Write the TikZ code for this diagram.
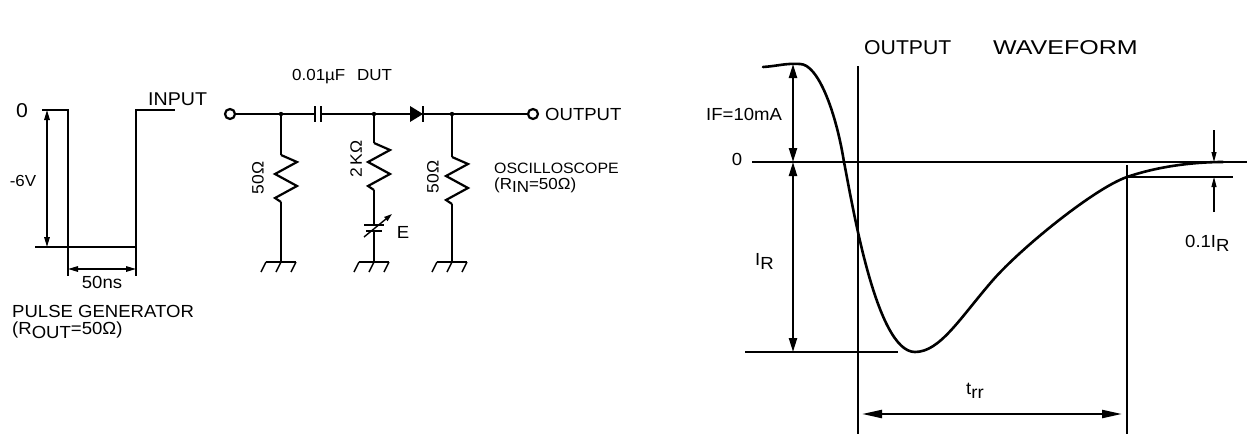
\documentclass[tikz,border=0pt]{standalone}
\usepackage{fontspec}
\setmainfont{Liberation Sans}[FakeStretch=1.06]
\usetikzlibrary{arrows.meta}
\newcommand\lsub[1]{\raisebox{-0.45ex}{#1}}
\begin{document}
\begin{tikzpicture}[x=1pt,y=-1pt,
  wire/.style={line width=2.2pt},
  thinl/.style={line width=1.1pt},
  curv/.style={line width=2.6pt},
  bigdim/.style={line width=2.2pt,{Triangle[length=14pt,width=8pt]}-{Triangle[length=14pt,width=8pt]}},
  smalldim/.style={line width=1.5pt,{Triangle[length=10pt,width=5.5pt]}-{Triangle[length=10pt,width=5.5pt]}},
  tinyarr/.style={line width=1.1pt,-{Triangle[length=10pt,width=5pt]}},
  term/.style={circle,draw,line width=2.2pt,minimum size=10pt,inner sep=0pt,fill=white},
  lbl/.style={inner sep=0pt,font=\fontsize{17.5}{18}\selectfont},
  zres/.pic={\draw[wire,line join=miter] (0,0) -- (16,7) -- (-6,19) -- (16,31) -- (-6,43) -- (0,47);},
  gnd/.pic={\draw[wire] (-15,0) -- (15,0);
            \foreach \gx in {-15,0,15} \draw[line width=1.4pt] (\gx,0) -- (\gx-5,10);}
]
\useasboundingbox (0,0) rectangle (1254,434);

% ---------- pulse generator ----------
\coordinate (p0) at (42,110);
\coordinate (p1) at (68,110);
\coordinate (p2) at (68,247);
\coordinate (p3) at (136,247);
\coordinate (p4) at (136,110);
\coordinate (p5) at (175,110);
\draw[wire] (p0) -- (p1) -- (p2) -- (p3) -- (p4) -- (p5);
\coordinate (v0) at (47,110);
\coordinate (v1) at (47,247);
\draw[thinl] (35,247) -- (p2);
\draw[smalldim] (v0) -- (v1);
\coordinate (e1) at (68,276);
\coordinate (e2) at (136,276);
\draw[thinl] (p2) -- (e1);
\draw[thinl] (p3) -- (e2);
\coordinate (h0) at (68,269);
\coordinate (h1) at (136,269);
\draw[smalldim] (h0) -- (h1);
\node[lbl,font=\fontsize{20}{20}\selectfont] (zero1) at (22,111) {0};
\node[lbl,font=\fontsize{16}{16}\selectfont] (sixv) at (23,181) {-6V};
\node[lbl,anchor=base west,font=\fontsize{18.5}{19}\selectfont] (inputlbl) at (148,105) {INPUT};
\node[lbl,anchor=base] (ns) at (102,288) {50ns};
\node[lbl,anchor=base west] (pg) at (12,317) {PULSE GENERATOR};
\node[lbl,anchor=base west] (rout) at (12,334) {(R\lsub{OUT}=50Ω)};

% ---------- circuit ----------
\node[term] (in) at (230,114) {};
\coordinate (j1) at (281,114);
\coordinate (c1) at (315,114);
\coordinate (c2) at (321,114);
\coordinate (j2) at (374,114);
\coordinate (da) at (410,114);
\coordinate (dk) at (423,114);
\coordinate (j3) at (452,114);
\node[term] (out) at (533,114) {};
\draw[wire] (in) -- (c1);
\draw[wire] (315,106) -- (315,122);
\draw[wire] (321,106) -- (321,122);
\draw[wire] (c2) -- (da);
\fill (410,106) -- (dk) -- (410,122) -- cycle;
\draw[wire] (423,106) -- (423,122);
\draw[wire] (dk) -- (out);
\foreach \j in {j1,j2,j3} \fill (\j) circle (2.2pt);

% branch 1
\coordinate (r1t) at (281,155);
\coordinate (r1b) at (281,202);
\coordinate (g1) at (281,262);
\draw[wire] (j1) -- (r1t);
\pic at (r1t) {zres};
\draw[wire] (r1b) -- (g1);
\pic at (g1) {gnd};
\node[lbl,rotate=90,font=\fontsize{16.5}{17}\selectfont] (r1l) at (258,178) {50Ω};

% branch 2
\coordinate (r2t) at (374,143);
\coordinate (r2b) at (374,190);
\coordinate (bt) at (374,225);
\coordinate (bb) at (374,231);
\coordinate (g2) at (374,262);
\draw[wire] (j2) -- (r2t);
\pic at (r2t) {zres};
\draw[wire] (r2b) -- (bt);
\draw[wire] (364,225) -- (384,225);
\draw[wire] (366,231) -- (382,231);
\draw[wire] (bb) -- (g2);
\draw[line width=1.4pt,-{Triangle[length=8pt,width=5pt]}] (364,237) -- (392,214);
\pic at (g2) {gnd};
\node[lbl,rotate=90,font=\fontsize{16.5}{17}\selectfont] (r2l) at (356,159) {2\,KΩ};
\node[lbl,font=\fontsize{17.5}{18}\selectfont] (elbl) at (403,232) {E};

% branch 3
\coordinate (r3t) at (452,157);
\coordinate (r3b) at (452,204);
\coordinate (g3) at (452,262);
\draw[wire] (j3) -- (r3t);
\pic at (r3t) {zres};
\draw[wire] (r3b) -- (g3);
\pic at (g3) {gnd};
\node[lbl,rotate=90,font=\fontsize{16.5}{17}\selectfont] (r3l) at (433,177) {50Ω};

\node[lbl,anchor=base west,font=\fontsize{16}{16}\selectfont] (cap) at (292,80) {0.01µF};
\node[lbl,anchor=base west,font=\fontsize{16}{16}\selectfont] (dut) at (357,80) {DUT};
\node[lbl,anchor=base west] (outlbl) at (545,120) {OUTPUT};
\node[lbl,anchor=base west,font=\fontsize{15}{16}\selectfont] (osc) at (494,173) {OSCILLOSCOPE};
\node[lbl,anchor=base west,font=\fontsize{16}{16}\selectfont] (rin) at (494,189) {(R\lsub{IN}=50Ω)};

% ---------- waveform ----------
\node[lbl,anchor=base west,font=\fontsize{20}{20}\selectfont] (wf1) at (864,54) {OUTPUT};
\node[lbl,anchor=base west,font=\fontsize{20}{20}\selectfont] (wf2) at (993,54) {\scalebox{1.18}[1]{WAVEFORM}};
\coordinate (z0) at (752,162);
\coordinate (z1) at (1247,162);
\draw[thinl] (z0) -- (z1);
\draw[thinl] (858,66) -- (858,434);
\draw[thinl] (745,352) -- (898,352);
\draw[thinl] (1127,165) -- (1127,434);
\draw[thinl] (1127,177) -- (1233,177);
\draw[curv,line cap=round]
  (763,67) .. controls (778,66) and (786,63) .. (800,64)
  .. controls (818,64) and (836,112) .. (844,162)
  .. controls (852,202) and (876,352) .. (915,352)
  .. controls (940,352) and (960,318) .. (993,280)
  .. controls (1022,247) and (1095,188) .. (1127,177)
  .. controls (1159,166) and (1195,162) .. (1223,162);
\coordinate (ifT) at (793,64);
\coordinate (ifB) at (793,162);
\coordinate (irB) at (793,352);
\draw[bigdim] (ifT) -- (ifB);
\draw[bigdim] (ifB) -- (irB);
\coordinate (tr0) at (862,414);
\coordinate (tr1) at (1122,414);
\draw[bigdim,{Triangle[length=20pt,width=8pt]}-{Triangle[length=20pt,width=8pt]}] (tr0) -- (tr1);
\coordinate (a1s) at (1214,130);
\coordinate (a1e) at (1214,162);
\coordinate (a2s) at (1214,212);
\coordinate (a2e) at (1214,177);
\draw[tinyarr] (a1s) -- (a1e);
\draw[tinyarr] (a2s) -- (a2e);
\node[lbl,anchor=base west] (iflbl) at (706,120) {IF=10mA};
\node[lbl] (zero2) at (737,159) {0};
\node[lbl,anchor=base west] (irlbl) at (755,265) {I\lsub{R}};
\node[lbl,anchor=base west] (tenth) at (1185,247) {0.1I\lsub{R}};
\node[lbl,anchor=base west] (trr) at (966,394) {t\lsub{rr}};
\end{tikzpicture}
\end{document}
